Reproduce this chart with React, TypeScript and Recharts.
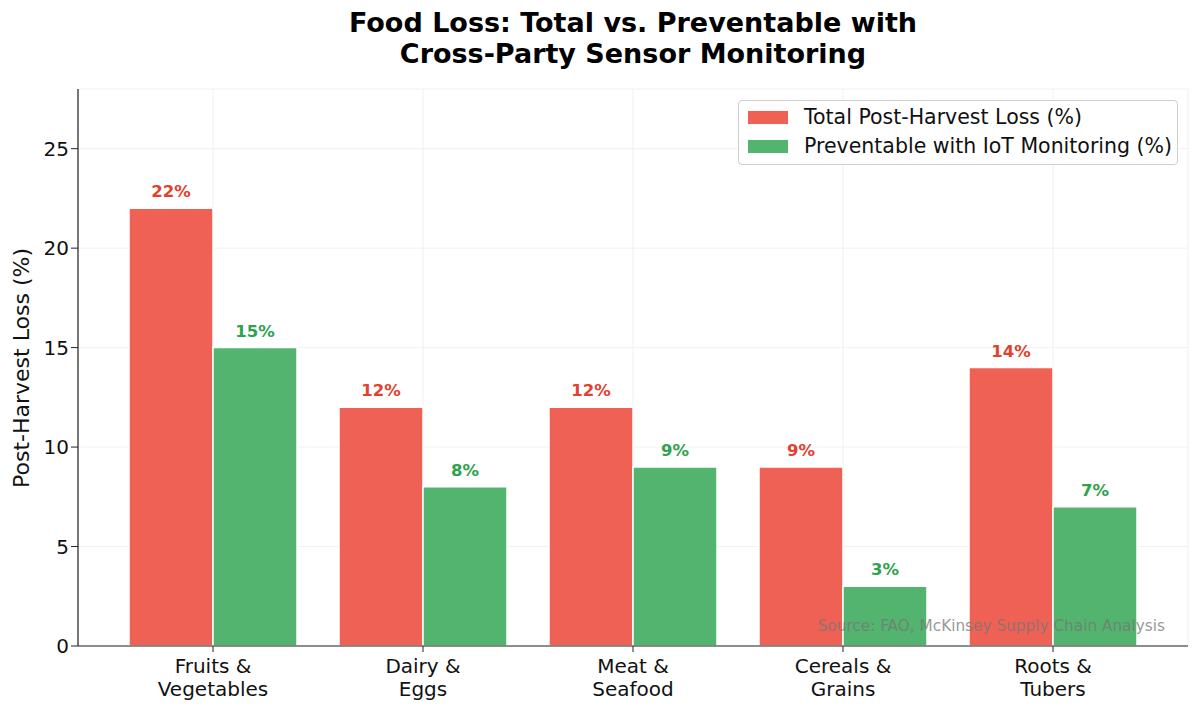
import { BarChart, Bar, XAxis, YAxis, CartesianGrid, LabelList } from "recharts";

const categories = ["Fruits &\nVegetables", "Dairy &\nEggs", "Meat &\nSeafood", "Cereals &\nGrains", "Roots &\nTubers"];
const totalLoss = [22, 12, 12, 9, 14];
const preventable = [15, 8, 9, 3, 7];
const yTicks = [0, 5, 10, 15, 20, 25];

const FONT = "'DejaVu Sans', Verdana, sans-serif";
const RED = "#ee6154";
const GREEN = "#52b46e";
const RED_TEXT = "#e2412f";
const GREEN_TEXT = "#2ea24c";

const data = categories.map((name, i) => ({
  name,
  total: totalLoss[i],
  prev: preventable[i],
}));

// étiquette de catégorie sur deux lignes
function CategoryTick(props: any) {
  const { x, y, payload } = props;
  const lines = String(payload.value).split("\n");
  return (
    <text x={x} y={y} textAnchor="middle" fontSize={20} fill="#111" fontFamily={FONT}>
      {lines.map((l, i) => (
        <tspan key={i} x={x} dy={i === 0 ? 19 : 23}>
          {l}
        </tspan>
      ))}
    </text>
  );
}

export default function App() {
  return (
    <div style={{ position: "absolute", left: 0, top: 0, width: 1200, height: 712, background: "#fff", fontFamily: FONT }}>
      <div
        style={{
          position: "absolute",
          left: 0,
          width: 1266,
          top: 7,
          textAlign: "center",
          fontWeight: "bold",
          fontSize: 27,
          lineHeight: "31px",
          color: "#000",
        }}
      >
        Food Loss: Total vs. Preventable with
        <br />
        Cross-Party Sensor Monitoring
      </div>

      <BarChart
        width={1200}
        height={712}
        data={data}
        margin={{ top: 89, right: 12, bottom: 0, left: 0 }}
        barCategoryGap={21}
        barGap={0}
      >
        <CartesianGrid stroke="#ececec" strokeWidth={0.8} />
        <XAxis
          dataKey="name"
          height={66}
          padding={{ left: 30, right: 30 }}
          tick={<CategoryTick />}
          tickSize={6}
          axisLine={{ stroke: "#222", strokeWidth: 1.2 }}
          tickLine={{ stroke: "#222" }}
          interval={0}
        />
        <YAxis
          width={78}
          domain={[0, 28]}
          ticks={yTicks}
          tickSize={7}
          tick={{ fontSize: 20, fill: "#111", fontFamily: FONT }}
          axisLine={{ stroke: "#222", strokeWidth: 1.2 }}
          tickLine={{ stroke: "#222" }}
        />
        <Bar dataKey="total" fill={RED} stroke="#fff" strokeWidth={1.5} isAnimationActive={false}>
          <LabelList
            dataKey="total"
            position="top"
            offset={11}
            formatter={(v: any) => `${v}%`}
            style={{ fill: RED_TEXT, fontWeight: "bold", fontSize: 16.5, fontFamily: FONT }}
          />
        </Bar>
        <Bar dataKey="prev" fill={GREEN} stroke="#fff" strokeWidth={1.5} isAnimationActive={false}>
          <LabelList
            dataKey="prev"
            position="top"
            offset={11}
            formatter={(v: any) => `${v}%`}
            style={{ fill: GREEN_TEXT, fontWeight: "bold", fontSize: 16.5, fontFamily: FONT }}
          />
        </Bar>
      </BarChart>

      {/* titre de l'axe Y */}
      <div
        style={{
          position: "absolute",
          left: 21,
          top: 368,
          transform: "translate(-50%, -50%) rotate(-90deg)",
          whiteSpace: "nowrap",
          fontSize: 22,
          color: "#111",
        }}
      >
        Post-Harvest Loss (%)
      </div>

      {/* légende */}
      <div
        style={{
          position: "absolute",
          left: 738,
          top: 100,
          width: 440,
          height: 65,
          boxSizing: "border-box",
          border: "1px solid #cfcfcf",
          borderRadius: 4,
          background: "rgba(255,255,255,0.8)",
          fontSize: 20.5,
          color: "#111",
        }}
      >
        {[
          { c: RED, t: "Total Post-Harvest Loss (%)", y: 17 },
          { c: GREEN, t: "Preventable with IoT Monitoring (%)", y: 46 },
        ].map((r) => (
          <div key={r.t}>
            <div style={{ position: "absolute", left: 9, top: r.y - 7, width: 40, height: 13, background: r.c }} />
            <div style={{ position: "absolute", left: 65, top: r.y - 13, lineHeight: "24px", whiteSpace: "nowrap" }}>{r.t}</div>
          </div>
        ))}
      </div>

      {/* source */}
      <div
        style={{
          position: "absolute",
          right: 35,
          top: 617,
          fontSize: 15.3,
          color: "#777",
          opacity: 0.75,
          whiteSpace: "nowrap",
        }}
      >
        Source: FAO, McKinsey Supply Chain Analysis
      </div>
    </div>
  );
}
